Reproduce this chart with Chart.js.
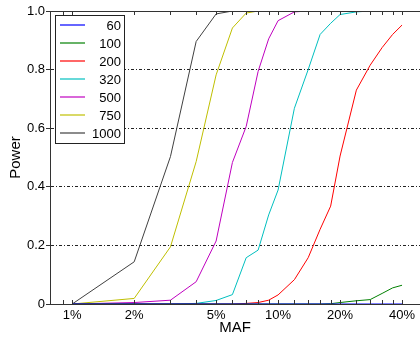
<!DOCTYPE html>
<html>
<head>
<meta charset="utf-8">
<script src="https://cdn.jsdelivr.net/npm/chart.js@4"></script>
<style>
  html, body { margin: 0; padding: 0; background: #fff; }
  canvas { display: block; }
</style>
</head>
<body>
<canvas id="power-chart" width="420" height="339"></canvas>
<script>
// MAF in percent
const maf = [1, 2, 3, 4, 5, 6, 7, 8, 9, 10, 12, 14, 16, 18, 20, 24, 28, 32, 36, 40];
const sampleSizes = ['60', '100', '200', '320', '500', '750', '1000'];
const power60   = [0, 0, 0, 0, 0, 0, 0, 0, 0, 0, 0, 0, 0, 0, 0, 0, 0, 0, 0, 0];
const power100  = [0, 0, 0, 0, 0, 0, 0, 0, 0, 0, 0, 0, 0, 0.001, 0.005, 0.011, 0.015, 0.036, 0.055, 0.064];
const power200  = [0, 0, 0, 0, 0, 0, 0.002, 0.005, 0.013, 0.031, 0.083, 0.158, 0.255, 0.334, 0.505, 0.73, 0.815, 0.875, 0.92, 0.952];
const power320  = [0, 0, 0, 0.002, 0.012, 0.032, 0.158, 0.184, 0.304, 0.389, 0.668, 0.8, 0.92, 0.958, 0.988, 0.997, 1, 1, 1, 1];
const power500  = [0, 0.005, 0.013, 0.076, 0.215, 0.483, 0.606, 0.794, 0.905, 0.967, 0.997, 1, 1, 1, 1, 1, 1, 1, 1, 1];
const power750  = [0, 0.019, 0.195, 0.486, 0.782, 0.942, 0.993, 1, 1, 1, 1, 1, 1, 1, 1, 1, 1, 1, 1, 1];
const power1000 = [0, 0.144, 0.503, 0.896, 0.99, 1, 1, 1, 1, 1, 1, 1, 1, 1, 1, 1, 1, 1, 1, 1];
const lineColors = ['#0000ff', '#008000', '#ff0000', '#00bfbf', '#bf00bf', '#bfbf00', '#404040'];

// tick marks sit on the data MAF values, labels only on a few
const xTickValues = [0.9, 1, 2, 3, 4, 5, 6, 7, 8, 9, 10, 12, 14, 16, 18, 20, 24, 28, 32, 36, 40];
const xLabelValues = [1, 2, 5, 10, 20, 40];
const yTickValues = [0, 0.2, 0.4, 0.6, 0.8, 1];

const allPower = [power60, power100, power200, power320, power500, power750, power1000];
const FONT = 'Liberation Sans, Arial, Helvetica, sans-serif';

// inward tick marks on bottom and top of the box, plus the top border line
const boxPlugin = {
    id: 'box',
    afterDatasetsDraw(chart) {
        const ctx = chart.ctx;
        const area = chart.chartArea;
        const xs = chart.scales.x;
        ctx.save();
        ctx.strokeStyle = '#333';
        ctx.lineWidth = 1;
        ctx.setLineDash([]);
        ctx.beginPath();
        ctx.moveTo(area.left, area.top + 0.5);
        ctx.lineTo(area.right, area.top + 0.5);
        ctx.stroke();
        xTickValues.forEach(v => {
            const px = Math.round(xs.getPixelForValue(v)) + 0.5;
            ctx.beginPath();
            ctx.moveTo(px, area.bottom);
            ctx.lineTo(px, area.bottom - 4);
            ctx.moveTo(px, area.top);
            ctx.lineTo(px, area.top + 4);
            ctx.stroke();
        });
        ctx.restore();
    }
};

// legend box inside the plot, top-left
const legendPlugin = {
    id: 'innerLegend',
    afterDraw(chart) {
        const c = chart.ctx;
        const left = 55, top = 15, width = 69, rowH = 18;
        c.save();
        c.setLineDash([]);
        c.fillStyle = '#fff';
        c.fillRect(left, top, width, rowH * sampleSizes.length + 2);
        c.strokeStyle = '#222';
        c.lineWidth = 1;
        c.strokeRect(left + 0.5, top + 0.5, width, rowH * sampleSizes.length + 2);
        c.font = '13px ' + FONT;
        c.textAlign = 'right';
        c.textBaseline = 'middle';
        sampleSizes.forEach((label, i) => {
            const y = top + 10 + i * rowH;
            c.strokeStyle = lineColors[i];
            c.lineWidth = 1.2;
            c.beginPath();
            c.moveTo(left + 5, y);
            c.lineTo(left + 30, y);
            c.stroke();
            c.fillStyle = '#000';
            c.fillText(label, left + 66, y + 1);
        });
        c.restore();
    }
};

const ctx = document.getElementById('power-chart').getContext('2d');
const powerChart = new Chart(ctx, {
    type: 'line',
    data: {
        datasets: sampleSizes.map((n, i) => ({
            label: n,
            data: maf.map((m, j) => ({ x: m, y: allPower[i][j] })),
            borderColor: lineColors[i],
            borderWidth: 1,
            pointRadius: 0,
            tension: 0,
            fill: false
        }))
    },
    options: {
        responsive: false,
        animation: false,
        layout: { padding: { top: 11, right: 0, left: 0, bottom: 0 } },
        plugins: {
            legend: { display: false },
            tooltip: { enabled: false }
        },
        scales: {
            x: {
                type: 'logarithmic',
                min: 0.78,
                max: 48.9,
                afterFit: scale => { scale.height = 35; },
                afterBuildTicks: scale => {
                    scale.ticks = xLabelValues.map(v => ({ value: v }));
                },
                ticks: {
                    autoSkip: false,
                    maxRotation: 0,
                    padding: 4,
                    color: '#000',
                    font: { family: FONT, size: 13 },
                    callback: v => v + '%'
                },
                grid: { display: true, drawOnChartArea: false, drawTicks: false },
                border: { display: true, color: '#333' },
                title: {
                    display: true,
                    text: 'MAF',
                    color: '#000',
                    font: { family: FONT, size: 15 },
                    padding: { top: 0, bottom: 2 }
                }
            },
            y: {
                min: 0,
                max: 1,
                afterFit: scale => { scale.width = 50; },
                afterBuildTicks: scale => {
                    scale.ticks = yTickValues.map(v => ({ value: v }));
                },
                ticks: {
                    padding: 1,
                    color: '#000',
                    font: { family: FONT, size: 13 }
                },
                grid: {
                    color: c => (c.tick && (c.tick.value === 0 || c.tick.value === 1)) ? 'rgba(0,0,0,0)' : '#222',
                    tickBorderDash: [],
                    tickColor: '#333',
                    tickLength: 4,
                    lineWidth: 1
                },
                border: { display: true, color: '#333', dash: [3, 2, 1, 2] },
                title: {
                    display: true,
                    text: 'Power',
                    color: '#000',
                    font: { family: FONT, size: 15 },
                    padding: { top: 7, bottom: 0 }
                }
            }
        }
    },
    plugins: [boxPlugin, legendPlugin]
});
</script>
</body>
</html>
